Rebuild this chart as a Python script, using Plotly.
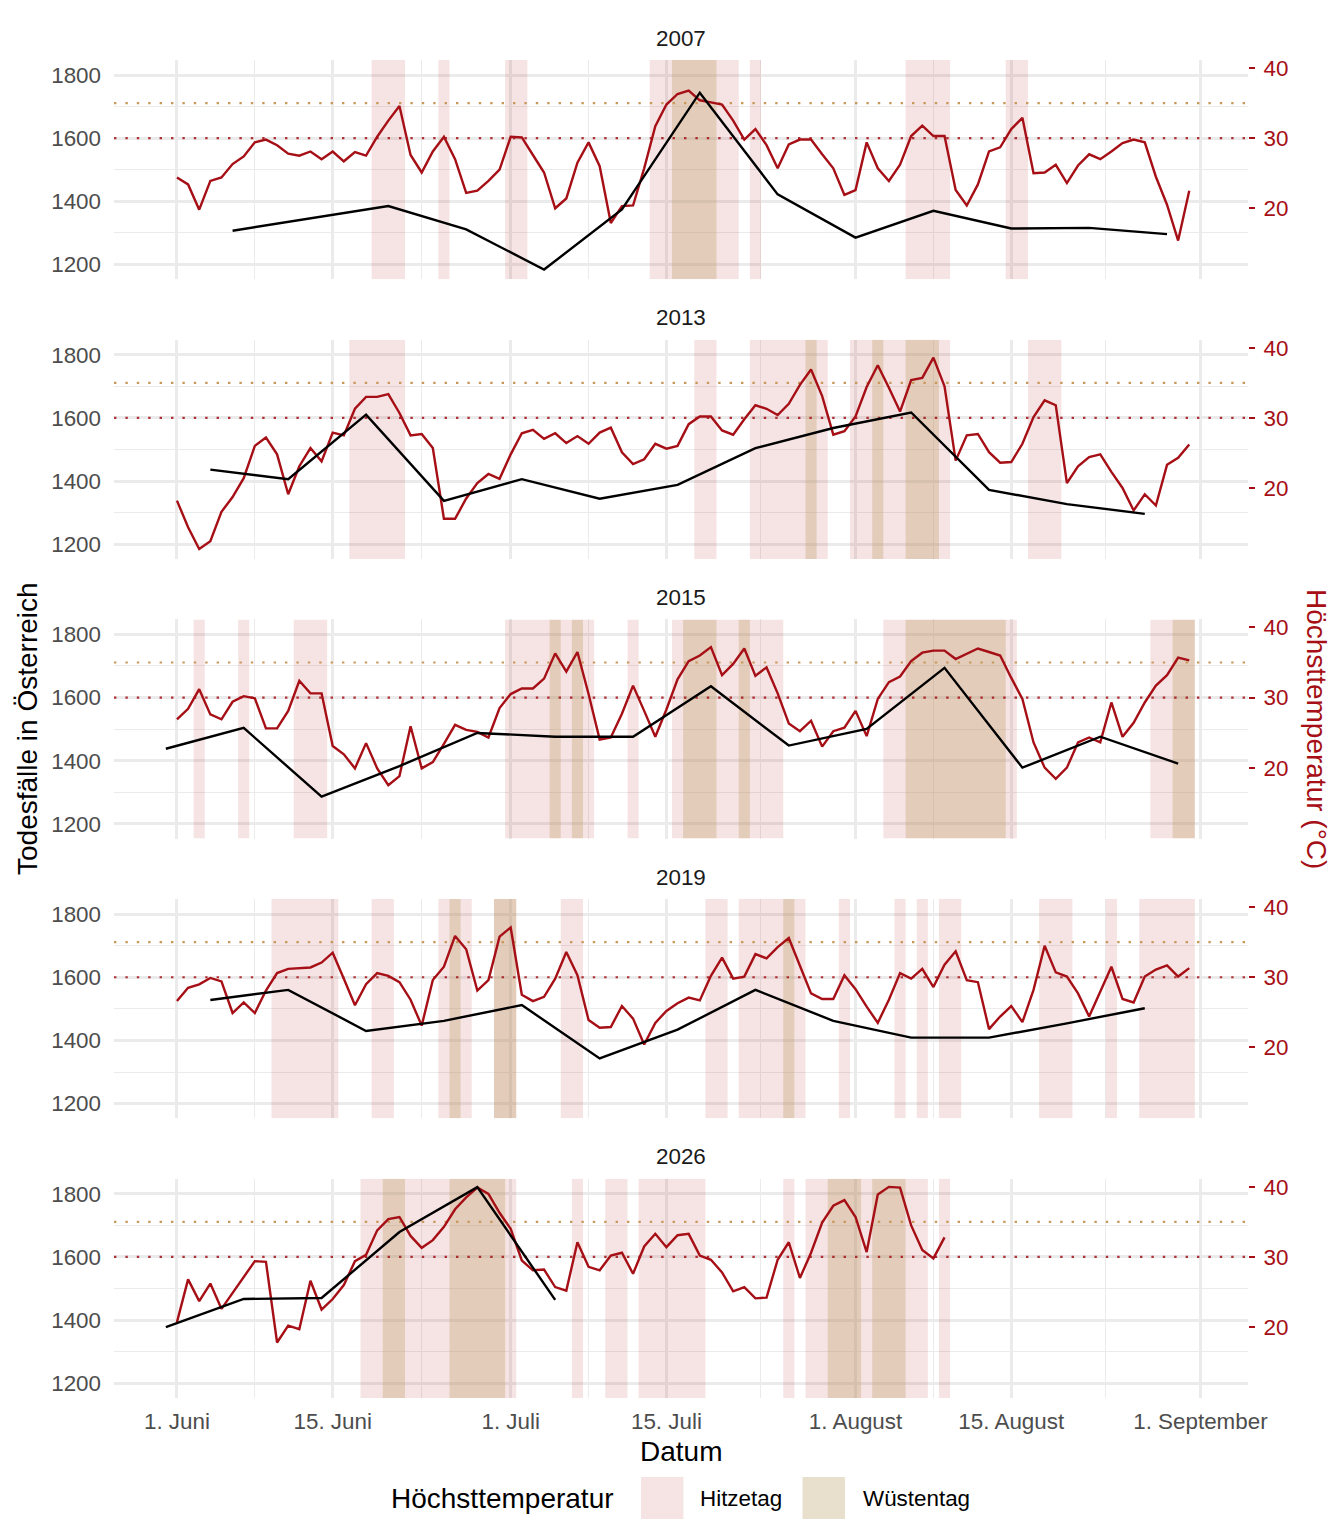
import plotly.graph_objects as go

# ---------------- data ----------------
YEARS = ["2007", "2013", "2015", "2019", "2026"]

# daily maximum temperature (°C), first value = 1 June
TEMP_2007 = [24.4, 23.4, 19.8, 23.9, 24.4, 26.3, 27.4, 29.4, 29.8, 29.0,
             27.8, 27.5, 28.1, 27.0, 28.1, 26.7, 28.0, 27.5, 30.2, 32.5,
             34.6, 27.6, 25.1, 28.1, 30.2, 27.0, 22.2, 22.5, 23.9, 25.5,
             30.2, 30.1, 27.6, 25.1, 20.0, 21.4, 26.5, 29.4, 26.0, 17.9,
             20.3, 20.4, 25.7, 31.7, 34.8, 36.3, 36.8, 35.4, 35.1, 34.8,
             32.5, 29.8, 31.3, 29.0, 25.7, 29.1, 29.8, 29.8, 27.7, 25.7,
             21.9, 22.6, 29.4, 25.7, 23.9, 26.2, 30.3, 31.8, 30.3, 30.3,
             22.6, 20.4, 23.4, 28.1, 28.7, 31.3, 32.9, 25.0, 25.1, 26.2,
             23.6, 26.1, 27.7, 27.0, 28.1, 29.3, 29.8, 29.4, 24.5, 20.5,
             15.4, 22.5]
TEMP_2013 = [18.2, 14.4, 11.3, 12.4, 16.6, 18.7, 21.4, 26.0, 27.2, 24.8,
             19.1, 23.1, 25.7, 23.8, 27.9, 27.5, 31.3, 33.0, 33.0, 33.4,
             30.7, 27.5, 27.7, 25.7, 15.6, 15.6, 18.5, 20.7, 22.0, 21.3,
             24.8, 27.8, 28.3, 27.0, 27.8, 26.4, 27.4, 26.3, 27.9, 28.6,
             25.1, 23.4, 24.1, 26.3, 25.6, 26.0, 29.1, 30.2, 30.2, 28.2,
             27.6, 29.8, 31.8, 31.3, 30.4, 32.0, 34.7, 36.9, 33.1, 27.6,
             28.1, 30.2, 34.4, 37.5, 34.3, 30.9, 35.4, 35.7, 38.6, 34.5,
             23.9, 27.5, 27.7, 25.1, 23.6, 23.7, 26.3, 30.1, 32.5, 31.8,
             20.7, 23.1, 24.4, 24.8, 22.3, 20.0, 16.8, 19.1, 17.5, 23.3,
             24.3, 26.2]
TEMP_2015 = [26.9, 28.4, 31.2, 27.6, 26.9, 29.4, 30.2, 29.9, 25.6, 25.6,
             28.1, 32.4, 30.6, 30.6, 23.1, 21.9, 19.9, 23.5, 19.9, 17.5,
             18.8, 25.9, 19.9, 20.8, 23.4, 26.1, 25.4, 25.1, 24.3, 28.5,
             30.5, 31.3, 31.3, 32.7, 36.3, 33.7, 36.5, 30.5, 24.0, 24.3,
             27.7, 31.7, 28.1, 24.4, 28.3, 32.6, 35.2, 36.0, 37.2, 33.2,
             34.8, 37.0, 33.1, 34.3, 30.6, 26.3, 25.2, 26.7, 23.0, 25.2,
             25.7, 28.1, 24.5, 29.8, 32.2, 33.0, 35.2, 36.4, 36.7, 36.7,
             35.5, 36.3, 37.0, 36.5, 36.0, 32.8, 29.8, 23.6, 20.0, 18.4,
             20.0, 23.6, 24.3, 23.6, 29.3, 24.4, 26.4, 29.3, 31.7, 33.2,
             35.7, 35.3]
TEMP_2019 = [26.6, 28.5, 29.0, 29.9, 29.4, 24.9, 26.4, 24.9, 28.1, 30.6,
             31.2, 31.3, 31.4, 32.1, 33.5, 29.8, 26.0, 29.0, 30.6, 30.2,
             29.3, 26.8, 23.1, 29.6, 31.5, 35.9, 34.0, 28.1, 29.6, 35.8,
             37.1, 27.5, 26.6, 27.2, 29.8, 33.6, 30.3, 23.9, 22.8, 22.9,
             25.9, 24.1, 20.4, 23.5, 25.2, 26.3, 27.1, 26.7, 30.2, 32.8,
             29.8, 30.1, 33.3, 32.7, 34.3, 35.6, 31.7, 27.7, 26.9, 26.9,
             30.3, 28.3, 25.8, 23.5, 26.8, 30.6, 29.8, 31.2, 28.6, 31.8,
             33.7, 29.6, 29.3, 22.6, 24.4, 25.9, 23.6, 28.2, 34.5, 30.7,
             30.1, 27.7, 24.4, 28.0, 31.5, 26.9, 26.4, 30.1, 31.1, 31.7,
             30.1, 31.3]
TEMP_2026 = [20.7, 26.8, 23.7, 26.2, 22.6, 24.9, 27.1, 29.4, 29.3, 17.8,
             20.2, 19.7, 26.6, 22.5, 24.0, 26.0, 29.4, 30.3, 33.8, 35.4,
             35.7, 33.0, 31.3, 32.4, 34.3, 36.8, 38.5, 39.9, 39.0, 36.3,
             34.0, 29.5, 28.1, 28.2, 25.7, 25.2, 32.1, 28.6, 28.1, 30.2,
             30.6, 27.6, 31.5, 33.3, 31.4, 33.1, 33.3, 30.2, 29.6, 27.8,
             25.1, 25.7, 24.1, 24.2, 29.6, 32.1, 27.0, 30.6, 34.9, 37.3,
             38.1, 35.7, 30.7, 38.9, 40.0, 39.9, 34.5, 31.0, 29.8, 32.8]

# weekly deaths: position (days after 1 June) and value
DEATH_DAYS_2007 = [5, 12, 19, 26, 33, 40, 47, 54, 61, 68, 75, 82, 89]
DEATH_VALS_2007 = [1307, 1346, 1385, 1311, 1184, 1374, 1744, 1422, 1285, 1370, 1314, 1316, 1296]
DEATH_DAYS_2013 = [3, 10, 17, 24, 31, 38, 45, 52, 59, 66, 73, 80, 87]
DEATH_VALS_2013 = [1436, 1406, 1610, 1337, 1406, 1344, 1388, 1504, 1568, 1617, 1372, 1327, 1296]
DEATH_DAYS_2015 = [-1, 6, 13, 20, 27, 34, 41, 48, 55, 62, 69, 76, 83, 90]
DEATH_VALS_2015 = [1438, 1504, 1286, 1383, 1488, 1476, 1476, 1636, 1448, 1501, 1694, 1378, 1476, 1391]
DEATH_DAYS_2019 = [3, 10, 17, 24, 31, 38, 45, 52, 59, 66, 73, 80, 87]
DEATH_VALS_2019 = [1528, 1560, 1430, 1462, 1512, 1343, 1434, 1560, 1462, 1409, 1409, 1454, 1502]
DEATH_DAYS_2026 = [-1, 6, 13, 20, 27, 34]
DEATH_VALS_2026 = [1378, 1467, 1470, 1679, 1821, 1464]

TEMPS = {"2007": TEMP_2007, "2013": TEMP_2013, "2015": TEMP_2015,
         "2019": TEMP_2019, "2026": TEMP_2026}
DEATH_DAYS = {"2007": DEATH_DAYS_2007, "2013": DEATH_DAYS_2013, "2015": DEATH_DAYS_2015,
              "2019": DEATH_DAYS_2019, "2026": DEATH_DAYS_2026}
DEATH_VALS = {"2007": DEATH_VALS_2007, "2013": DEATH_VALS_2013, "2015": DEATH_VALS_2015,
              "2019": DEATH_VALS_2019, "2026": DEATH_VALS_2026}

TICK_DAYS = [0, 14, 30, 44, 61, 75, 92]
TICK_LABELS = ["1. Juni", "15. Juni", "1. Juli", "15. Juli", "1. August", "15. August", "1. September"]
MINOR_DAYS = [7, 22, 37, 52.5, 68, 83.5]
DEATH_TICKS = [1200, 1400, 1600, 1800]
DEATH_MINOR = [1300, 1500, 1700]
TEMP_TICKS = [20, 30, 40]
HITZE_T = 30
WUESTE_T = 35

# ---------------- style / layout ----------------
FONT = "Liberation Sans, Arial, Helvetica, sans-serif"
RED = "#A50F15"
HITZE_FILL = "rgba(178,34,34,0.12)"
WUESTE_FILL = "rgba(186,155,99,0.32)"
GRID = "#EBEBEB"
TXT = "#4D4D4D"

W, H = 1344, 1536
ML, MR, MT, MB = 114, 96, 60, 138
PW = W - ML - MR
PH = H - MT - MB
PANEL_H = 219.2
PITCH = 279.7
X_RANGE = [-5.66, 96.28]
D_RANGE = [1153.4, 1847.5]
DEG = 22.2  # deaths per °C on the secondary scale


def d_to_t(d):
    return HITZE_T + (d - 1600) / DEG


T_RANGE = [d_to_t(D_RANGE[0]), d_to_t(D_RANGE[1])]


def px_x(px):
    return (px - ML) / PW


def px_y(py):
    return (H - MB - py) / PH


def runs(values, thr):
    out, start = [], None
    for d, v in enumerate(values):
        if v >= thr:
            if start is None:
                start = d
        elif start is not None:
            out.append((start, d - 1))
            start = None
    if start is not None:
        out.append((start, len(values) - 1))
    return out


fig = go.Figure()
shapes, annotations = [], []
lay = {}

for i, yr in enumerate(YEARS):
    k = i + 1
    top = MT + PITCH * i
    bot = top + PANEL_H
    dom = [max(0.0, px_y(bot)), min(1.0, px_y(top))]
    xs = "" if k == 1 else str(k)

    lay[f"xaxis{xs}"] = dict(
        domain=[0, 1], range=X_RANGE, anchor=f"y{xs}",
        tickmode="array", tickvals=TICK_DAYS, ticktext=TICK_LABELS,
        showticklabels=(k == len(YEARS)), ticks="",
        tickfont=dict(family=FONT, size=22.4, color=TXT), ticklabelstandoff=8,
        showgrid=True, gridcolor=GRID, gridwidth=2.6,
        minor=dict(tickmode="array", tickvals=MINOR_DAYS, showgrid=True,
                   gridcolor=GRID, gridwidth=1.3, ticks=""),
        zeroline=False, showline=False, fixedrange=True)
    # temperature (base axis, right side)
    lay[f"yaxis{xs}"] = dict(
        domain=dom, range=T_RANGE, anchor=f"x{xs}", side="right",
        tickmode="array", tickvals=TEMP_TICKS, ticks="outside", ticklen=6,
        tickwidth=2.2, tickcolor=RED, ticklabelstandoff=4,
        tickfont=dict(family=FONT, size=22.4, color=RED),
        showgrid=False, zeroline=False, showline=False, fixedrange=True)
    # deaths (overlay axis, left side)
    lay[f"yaxis{k + 5}"] = dict(
        range=D_RANGE, anchor=f"x{xs}", overlaying=f"y{xs}", side="left",
        tickmode="array", tickvals=DEATH_TICKS, ticks="", ticklabelstandoff=12,
        tickfont=dict(family=FONT, size=22.4, color=TXT),
        showgrid=True, gridcolor=GRID, gridwidth=2.6,
        minor=dict(tickmode="array", tickvals=DEATH_MINOR, showgrid=True,
                   gridcolor=GRID, gridwidth=1.3, ticks=""),
        zeroline=False, showline=False, fixedrange=True)

    temps = TEMPS[yr]
    # heat-day bands (full panel height) as bars on the temperature axis
    for thr, fill in ((HITZE_T, HITZE_FILL), (WUESTE_T, WUESTE_FILL)):
        rr = runs(temps, thr)
        fig.add_trace(go.Bar(
            x=[(a + b) / 2 for a, b in rr], width=[b - a + 1 for a, b in rr],
            y=[T_RANGE[1] - T_RANGE[0]] * len(rr), base=T_RANGE[0],
            marker=dict(color=fill, line=dict(width=0)),
            xaxis=f"x{xs}", yaxis=f"y{xs}", showlegend=False, hoverinfo="skip"))
    # threshold lines
    for thr, col in ((HITZE_T, "rgba(165,15,21,0.85)"), (WUESTE_T, "#C8995A")):
        fig.add_trace(go.Scatter(
            x=X_RANGE, y=[thr, thr], mode="lines",
            line=dict(color=col, width=2.2, dash="2.4px,9px"),
            xaxis=f"x{xs}", yaxis=f"y{xs}", showlegend=False, hoverinfo="skip"))
    fig.add_trace(go.Scatter(
        x=list(range(len(temps))), y=temps, mode="lines",
        line=dict(color=RED, width=2.4), xaxis=f"x{xs}", yaxis=f"y{xs}",
        showlegend=False, hoverinfo="skip"))
    fig.add_trace(go.Scatter(
        x=DEATH_DAYS[yr], y=DEATH_VALS[yr], mode="lines",
        line=dict(color="black", width=2.4), xaxis=f"x{xs}", yaxis=f"y{k + 5}",
        showlegend=False, hoverinfo="skip"))

    annotations.append(dict(text=yr, xref="paper", yref="paper", x=0.5,
                            y=px_y(top - 22), xanchor="center", yanchor="middle",
                            showarrow=False, font=dict(family=FONT, size=22.4, color="#1A1A1A")))

mid = px_y(MT + (PITCH * 4 + PANEL_H) / 2)
annotations += [
    dict(text="Todesfälle in Österreich", xref="paper", yref="paper", x=px_x(27), y=mid,
         textangle=-90, xanchor="center", yanchor="middle", showarrow=False,
         font=dict(family=FONT, size=28, color="black")),
    dict(text="Höchsttemperatur (°C)", xref="paper", yref="paper", x=px_x(1317), y=mid,
         textangle=90, xanchor="center", yanchor="middle", showarrow=False,
         font=dict(family=FONT, size=28, color=RED)),
    dict(text="Datum", xref="paper", yref="paper", x=px_x(681), y=px_y(1452),
         xanchor="center", yanchor="middle", showarrow=False,
         font=dict(family=FONT, size=28, color="black")),
    dict(text="Höchsttemperatur", xref="paper", yref="paper", x=px_x(389), y=px_y(1498),
         xanchor="left", yanchor="middle", showarrow=False,
         font=dict(family=FONT, size=28, color="black")),
    dict(text="Hitzetag", xref="paper", yref="paper", x=px_x(698), y=px_y(1498),
         xanchor="left", yanchor="middle", showarrow=False,
         font=dict(family=FONT, size=22.4, color="black")),
    dict(text="Wüstentag", xref="paper", yref="paper", x=px_x(861), y=px_y(1498),
         xanchor="left", yanchor="middle", showarrow=False,
         font=dict(family=FONT, size=22.4, color="black")),
]
shapes += [
    dict(type="rect", xref="paper", yref="paper", x0=px_x(641), x1=px_x(683.5),
         y0=px_y(1519), y1=px_y(1477), fillcolor=HITZE_FILL, line=dict(width=0)),
    dict(type="rect", xref="paper", yref="paper", x0=px_x(802.5), x1=px_x(845),
         y0=px_y(1519), y1=px_y(1477), fillcolor=WUESTE_FILL, line=dict(width=0)),
]

fig.update_layout(
    width=W, height=H, autosize=False,
    margin=dict(l=ML, r=MR, t=MT, b=MB, pad=0),
    paper_bgcolor="white", plot_bgcolor="white",
    font=dict(family=FONT, size=22.4, color=TXT),
    showlegend=False, hovermode=False, barmode="overlay",
    shapes=shapes, annotations=annotations,
    **lay)

fig.write_html("out.html", config={"displayModeBar": False},
               post_script="document.body.style.margin='0';")
